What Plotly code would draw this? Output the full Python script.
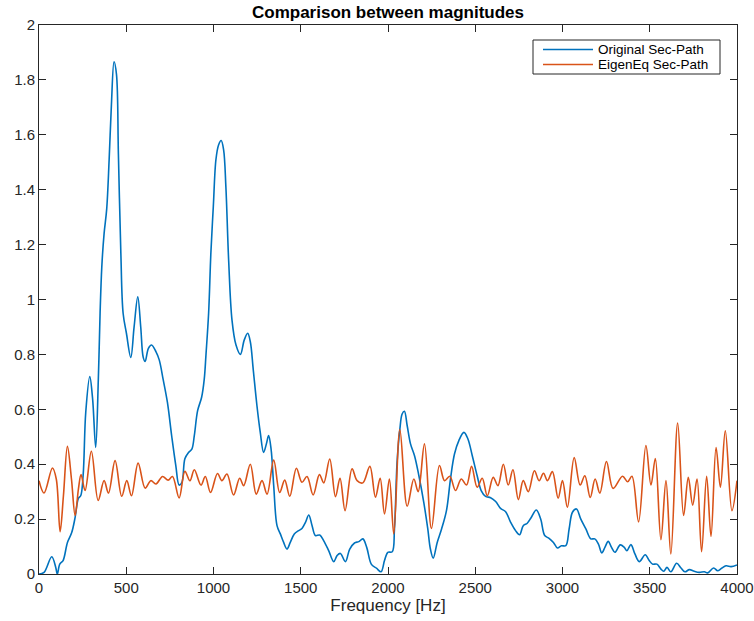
import plotly.graph_objects as go

# Frequency axis samples (Hz) and magnitudes for the original secondary path
freq_orig = [0, 29, 73, 96, 105, 119, 138, 163, 187, 207, 226, 239, 253, 268, 291, 307, 325, 340,
             350, 360, 373, 388, 402, 415, 430, 444, 455, 469, 482, 501, 526, 545, 566, 583, 597,
             608, 627, 645, 670, 689, 712, 736, 761, 784, 803, 819, 836, 857, 876, 890, 909, 932,
             947, 957, 972, 985, 999, 1014, 1029, 1044, 1058, 1071, 1087, 1106, 1129, 1154, 1176,
             1196, 1211, 1228, 1249, 1268, 1287, 1303, 1316, 1330, 1345, 1364, 1383, 1402, 1421,
             1440, 1463, 1488, 1507, 1527, 1546, 1565, 1584, 1609, 1632, 1660, 1689, 1708, 1727,
             1756, 1780, 1808, 1833, 1856, 1878, 1905, 1934, 1960, 1980, 1999, 2024, 2037, 2052,
             2068, 2081, 2094, 2110, 2129, 2152, 2177, 2205, 2228, 2243, 2259, 2282, 2307, 2335,
             2358, 2381, 2406, 2435, 2458, 2483, 2511, 2534, 2559, 2588, 2617, 2645, 2674, 2703,
             2731, 2754, 2775, 2798, 2820, 2850, 2875, 2898, 2923, 2948, 2971, 2994, 3019, 3038,
             3057, 3080, 3105, 3134, 3162, 3185, 3206, 3225, 3243, 3262, 3281, 3300, 3331, 3354,
             3369, 3392, 3415, 3440, 3474, 3497, 3516, 3541, 3564, 3580, 3599, 3621, 3654, 3679,
             3702, 3727, 3755, 3784, 3813, 3832, 3866, 3889, 3912, 3937, 3966, 4000]
mag_orig = [0.0, 0.006, 0.063, 0.024, 0.0, 0.036, 0.049, 0.115, 0.15, 0.206, 0.276, 0.285, 0.36,
            0.59, 0.719, 0.64, 0.461, 0.71, 0.95, 1.12, 1.24, 1.33, 1.51, 1.71, 1.866, 1.82, 1.53,
            1.17, 0.95, 0.877, 0.789, 0.90, 1.01, 0.90, 0.79, 0.774, 0.822, 0.834, 0.81, 0.78,
            0.707, 0.625, 0.50, 0.395, 0.324, 0.334, 0.42, 0.443, 0.455, 0.504, 0.595, 0.644,
            0.71, 0.80, 0.95, 1.17, 1.34, 1.51, 1.563, 1.579, 1.545, 1.41, 1.14, 0.925, 0.834,
            0.80, 0.852, 0.877, 0.846, 0.743, 0.613, 0.516, 0.443, 0.474, 0.504, 0.455, 0.322,
            0.176, 0.146, 0.115, 0.091, 0.115, 0.146, 0.158, 0.166, 0.188, 0.215, 0.176, 0.14,
            0.142, 0.121, 0.085, 0.045, 0.067, 0.075, 0.045, 0.09, 0.113, 0.118, 0.128, 0.097,
            0.035, 0.021, 0.008, 0.049, 0.079, 0.081, 0.164, 0.407, 0.528, 0.583, 0.593, 0.54,
            0.474, 0.431, 0.358, 0.261, 0.164, 0.091, 0.058, 0.115, 0.164, 0.231, 0.346, 0.437,
            0.486, 0.516, 0.492, 0.431, 0.358, 0.304, 0.283, 0.278, 0.264, 0.239, 0.227, 0.188,
            0.158, 0.143, 0.176, 0.185, 0.205, 0.233, 0.20, 0.14, 0.13, 0.115, 0.095, 0.103,
            0.103, 0.164, 0.225, 0.237, 0.2, 0.164, 0.128, 0.128, 0.109, 0.077, 0.097, 0.119,
            0.097, 0.079, 0.106, 0.097, 0.085, 0.107, 0.073, 0.045, 0.07, 0.049, 0.036, 0.036,
            0.018, 0.01, 0.024, 0.008, 0.039, 0.022, 0.008, 0.016, 0.01, 0.006, 0.008, 0.004,
            0.022, 0.012, 0.021, 0.03, 0.027, 0.033]

# Frequency axis samples (Hz) and magnitudes for the eigen-equalised secondary path
freq_eig = [0, 29, 77, 99, 121, 140, 163, 186, 207, 226, 241, 264, 300, 339, 373, 398, 436, 474,
            503, 530, 568, 608, 641, 670, 708, 740, 765, 803, 836, 865, 890, 928, 953, 983, 1023,
            1048, 1077, 1115, 1150, 1173, 1211, 1245, 1278, 1307, 1345, 1379, 1408, 1437, 1475,
            1507, 1536, 1571, 1607, 1632, 1666, 1699, 1725, 1754, 1794, 1823, 1856, 1896, 1928,
            1955, 1980, 2008, 2033, 2068, 2110, 2148, 2173, 2209, 2249, 2295, 2324, 2354, 2387,
            2420, 2450, 2479, 2511, 2540, 2569, 2603, 2630, 2661, 2689, 2716, 2747, 2775, 2804,
            2839, 2866, 2891, 2914, 2942, 2975, 3000, 3028, 3067, 3101, 3128, 3159, 3187, 3214,
            3252, 3290, 3344, 3373, 3398, 3436, 3478, 3507, 3532, 3564, 3593, 3621, 3660, 3694,
            3721, 3746, 3771, 3797, 3826, 3851, 3880, 3905, 3933, 3971, 4000]
mag_eig = [0.34, 0.295, 0.386, 0.346, 0.154, 0.285, 0.465, 0.346, 0.213, 0.31, 0.362, 0.304,
           0.447, 0.268, 0.34, 0.295, 0.413, 0.283, 0.34, 0.285, 0.404, 0.313, 0.34, 0.328,
           0.355, 0.342, 0.355, 0.277, 0.374, 0.34, 0.38, 0.324, 0.355, 0.297, 0.366, 0.34,
           0.364, 0.288, 0.349, 0.322, 0.40, 0.291, 0.34, 0.291, 0.415, 0.297, 0.342, 0.283,
           0.385, 0.334, 0.355, 0.288, 0.362, 0.332, 0.419, 0.282, 0.349, 0.231, 0.383, 0.34,
           0.332, 0.392, 0.28, 0.349, 0.219, 0.346, 0.146, 0.526, 0.247, 0.346, 0.30, 0.474,
           0.166, 0.395, 0.34, 0.356, 0.304, 0.346, 0.324, 0.392, 0.316, 0.349, 0.285, 0.352,
           0.322, 0.40, 0.324, 0.38, 0.271, 0.34, 0.30, 0.376, 0.34, 0.367, 0.34, 0.373, 0.276,
           0.34, 0.243, 0.424, 0.324, 0.358, 0.279, 0.346, 0.295, 0.41, 0.312, 0.356, 0.336,
           0.356, 0.19, 0.468, 0.324, 0.421, 0.125, 0.34, 0.073, 0.55, 0.213, 0.352, 0.251,
           0.346, 0.081, 0.356, 0.137, 0.461, 0.316, 0.522, 0.231, 0.34]

series_names = ["Original Sec-Path", "EigenEq Sec-Path"]
series_colors = ["#0072BD", "#D95319"]

x_ticks = [0, 500, 1000, 1500, 2000, 2500, 3000, 3500, 4000]
y_ticks = [0, 0.2, 0.4, 0.6, 0.8, 1, 1.2, 1.4, 1.6, 1.8, 2]

AXIS_COLOR = "#262626"
FONT = "Liberation Sans, Arial, Helvetica, sans-serif"

# Figure geometry (pixels)
W, H = 754, 621
ML, MR, MT, MB = 39, 17, 25, 47
PW, PH = W - ML - MR, H - MT - MB


def px_to_paper_x(px):
    return (px - ML) / PW


def px_to_paper_y(py):
    return (H - MB - py) / PH


fig = go.Figure()
for xs, ys, name, color in zip([freq_orig, freq_eig], [mag_orig, mag_eig], series_names, series_colors):
    fig.add_trace(go.Scatter(
        x=xs, y=ys, mode="lines", name=name, showlegend=False,
        line=dict(color=color, width=1.6, shape="spline", smoothing=1.0),
    ))

axis_common = dict(
    showline=True, linecolor=AXIS_COLOR, linewidth=1, mirror="ticks",
    ticks="inside", ticklen=7, tickcolor=AXIS_COLOR, tickwidth=1,
    showgrid=False, zeroline=False, automargin=False,
    tickfont=dict(family=FONT, size=15, color=AXIS_COLOR),
)

fig.update_xaxes(
    range=[0, 4000], tickvals=x_ticks, ticktext=[str(v) for v in x_ticks],
    title=dict(text="Frequency [Hz]", font=dict(family=FONT, size=17, color=AXIS_COLOR), standoff=0),
    **axis_common,
)
fig.update_yaxes(
    range=[0, 2], tickvals=y_ticks, ticktext=[f"{v:g}" for v in y_ticks],
    **axis_common,
)

# Boxed legend in the upper-right corner of the axes
leg_left, leg_right, leg_top, leg_bottom = 533, 720, 40, 74
row_y = [49.5, 64.5]
shapes = [dict(
    type="rect", xref="paper", yref="paper",
    x0=px_to_paper_x(leg_left), x1=px_to_paper_x(leg_right),
    y0=px_to_paper_y(leg_bottom), y1=px_to_paper_y(leg_top),
    line=dict(color=AXIS_COLOR, width=1), fillcolor="white", layer="above",
)]
annotations = []
for name, color, ry in zip(series_names, series_colors, row_y):
    shapes.append(dict(
        type="line", xref="paper", yref="paper",
        x0=px_to_paper_x(543), x1=px_to_paper_x(593),
        y0=px_to_paper_y(ry), y1=px_to_paper_y(ry),
        line=dict(color=color, width=1.6), layer="above",
    ))
    annotations.append(dict(
        text=name, xref="paper", yref="paper",
        x=px_to_paper_x(597), y=px_to_paper_y(ry),
        xanchor="left", yanchor="middle", showarrow=False,
        font=dict(family=FONT, size=13.5, color="black"),
        borderpad=0,
    ))

fig.update_layout(
    width=W, height=H,
    margin=dict(l=ML, r=MR, t=MT, b=MB),
    paper_bgcolor="white", plot_bgcolor="white",
    font=dict(family=FONT, color=AXIS_COLOR),
    title=dict(
        text="<b>Comparison between magnitudes</b>",
        x=(ML + PW / 2) / W, xanchor="center",
        y=1 - 12 / H, yanchor="middle", yref="container",
        font=dict(family=FONT, size=17, color="black"),
    ),
    shapes=shapes,
    annotations=annotations,
    showlegend=False,
)

fig.write_html("out.html")
